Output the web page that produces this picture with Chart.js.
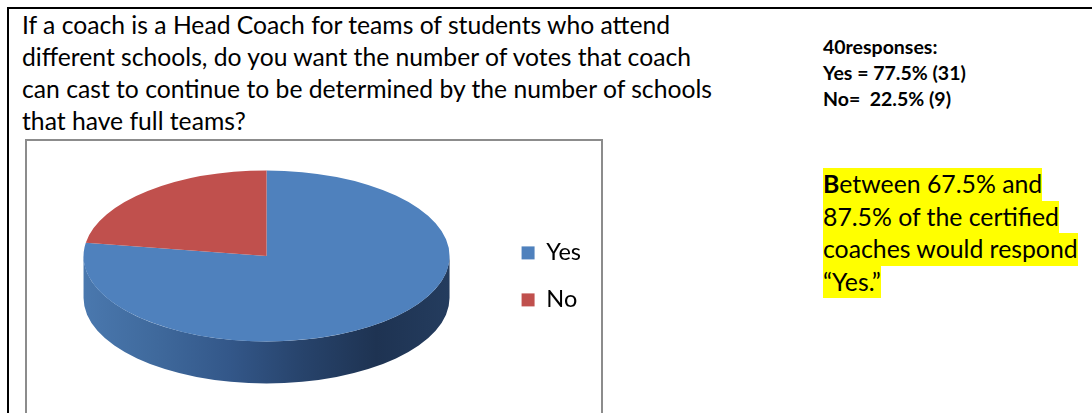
<!DOCTYPE html>
<html>
<head>
<meta charset="utf-8">
<script src="https://cdn.jsdelivr.net/npm/chart.js@4"></script>
<style>
body { margin:0; width:1092px; height:413px; overflow:hidden; background:#fff; font-family:Lato, "Open Sans", sans-serif; color:#000; position:relative; }
#tabla { position:absolute; left:7px; top:7px; width:1100px; height:420px; border-top:2px solid #000; border-left:2px solid #000; }
#pregunta { position:absolute; left:22px; top:9px; font-size:24.7px; line-height:32px; white-space:nowrap; }
#caja { position:absolute; left:25px; top:139px; width:574px; height:300px; border:2px solid #8c8c8c; }
#contenedor { position:absolute; left:7px; top:141px; width:594px; height:272px; }
#resumen { position:absolute; left:823px; top:34px; font-weight:bold; font-size:19.5px; line-height:26px; white-space:nowrap; }
#nota { position:absolute; left:823px; top:168px; font-size:24.8px; white-space:nowrap; }
#nota div { background:#ffff00; width:max-content; height:32.5px; line-height:32.5px; }
</style>
</head>
<body>
<div id="tabla"></div>
<div id="pregunta">
<div>If a coach is a Head Coach for teams of students who attend</div>
<div>different schools, do you want the number of votes that coach</div>
<div>can cast to continue to be determined by the number of schools</div>
<div>that have full teams?</div>
</div>
<div id="resumen">
<div>40responses:</div>
<div>Yes = 77.5% (31)</div>
<div>No=&nbsp; 22.5% (9)</div>
</div>
<div id="nota">
<div><b>B</b>etween 67.5% and</div>
<div>87.5% of the certified</div>
<div>coaches would respond</div>
<div>“Yes.”</div>
</div>
<div id="caja"></div>
<div id="contenedor"><canvas id="graficoVotos"></canvas></div>
<script>
const categorias = ["Yes", "No"];
const respuestas = [31, 9];

const colores = ["#4f81bd", "#c0504d"];
const coloresLado = [
    ["#4a78ae", "#3f699c", "#335789", "#27436b", "#1e3352", "#243c5e"],
    ["#a9423f", "#8f3634", "#742b29", "#5f2322"]
];
const inclinacion = 0.467;
const profundidad = 42;

const pie3d = {

    id: "pie3d",

    beforeDatasetsDraw(chart) {

        const ctx = chart.ctx;
        const meta = chart.getDatasetMeta(0);
        const cx = meta.data[0].x;
        const cy = meta.data[0].y;
        const r = meta.data[0].outerRadius;
        const ry = r * inclinacion;

        // paredes del frente (angulos 0..PI)
        meta.data.forEach((arc, i) => {

            [-2 * Math.PI, 0, 2 * Math.PI].forEach(base => {

                const a0 = Math.max(arc.startAngle, base);
                const a1 = Math.min(arc.endAngle, base + Math.PI);

                if (a1 <= a0) return;

                const grad = ctx.createLinearGradient(cx - r, 0, cx + r, 0);
                coloresLado[i].forEach((c, j, arr) => {
                    grad.addColorStop(j / (arr.length - 1), c);
                });

                ctx.beginPath();
                ctx.ellipse(cx, cy, r, ry, 0, a0 - base, a1 - base);
                ctx.ellipse(cx, cy + profundidad, r, ry, 0, a1 - base, a0 - base, true);
                ctx.closePath();
                ctx.fillStyle = grad;
                ctx.fill();

            });

        });

        ctx.save();
        ctx.translate(cx, cy);
        ctx.scale(1, inclinacion);
        ctx.translate(-cx, -cy);

    },

    afterDatasetsDraw(chart) {

        chart.ctx.restore();

    }

};

new Chart(

    document.getElementById("graficoVotos"),

    {

        type: "pie",

        data: {

            labels: categorias,

            datasets: [

                {

                    data: respuestas,

                    backgroundColor: colores,

                    borderWidth: 0,

                    radius: 183,

                    clip: false

                }

            ]

        },

        options: {

            responsive: true,

            maintainAspectRatio: false,

            animation: false,

            layout: {
                padding: { left: 28, right: 10, top: 0, bottom: 42 }
            },

            plugins: {

                legend: {

                    position: "right",

                    title: {
                        display: true,
                        text: " ",
                        padding: 0,
                        font: { size: 34 }
                    },

                    labels: {
                        boxWidth: 13,
                        boxHeight: 13,
                        padding: 23.5,
                        color: "#000",
                        font: { family: "Lato", size: 23.5 }
                    }

                },

                tooltip: { enabled: false }

            }

        },

        plugins: [pie3d]

    }

);
</script>
</body>
</html>
